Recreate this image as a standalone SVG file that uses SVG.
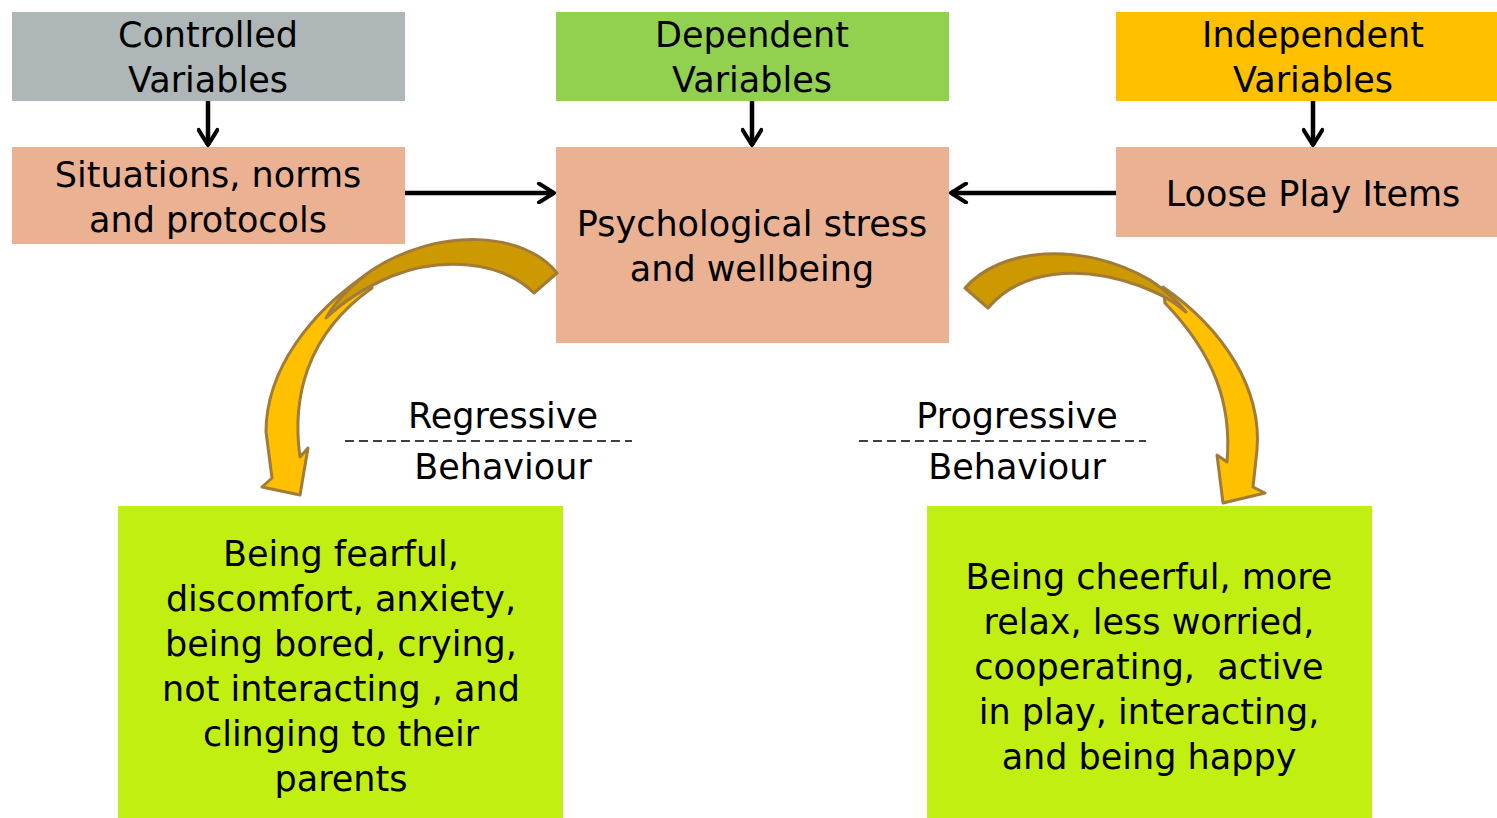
<svg xmlns="http://www.w3.org/2000/svg" width="1497" height="818" viewBox="0 0 1497 818">
  <defs>
    <style>
      text { font-family: "DejaVu Sans", "Liberation Sans", sans-serif; font-size: 35px; fill: #000; text-anchor: middle; }
      .grey { fill: #AEB6B7; }
      .green { fill: #92D050; }
      .amber { fill: #FFC000; }
      .peach { fill: #EBB193; }
      .lime { fill: #C2EF12; }
      .link { stroke: #000; stroke-width: 4.5; fill: none; }
      .dash { stroke: #000; stroke-width: 1.5; stroke-dasharray: 9 5; fill: none; }
      .band-dark { fill: #CC9900; stroke: #A37B38; stroke-width: 3; stroke-linejoin: round; }
      .band-light { fill: #FFC000; stroke: #A37B38; stroke-width: 3; stroke-linejoin: round; }
    </style>
    <marker id="chev" viewBox="0 0 12 12" refX="10" refY="6" markerWidth="5" markerHeight="5" orient="auto" markerUnits="strokeWidth">
      <path d="M2,1 L10,6 L2,11" fill="none" stroke="#000" stroke-width="2.2" stroke-linecap="round" stroke-linejoin="round"/>
    </marker>
  </defs>

  <rect width="1497" height="818" fill="#fff"/>

  <!-- header variable boxes -->
  <g id="controlled">
    <rect class="grey" x="12" y="12" width="393" height="89"/>
    <text x="208" y="47">Controlled</text>
    <text x="208" y="92">Variables</text>
  </g>
  <g id="dependent">
    <rect class="green" x="556" y="12" width="393" height="89"/>
    <text x="752" y="47">Dependent</text>
    <text x="752" y="92">Variables</text>
  </g>
  <g id="independent">
    <rect class="amber" x="1116" y="12" width="381" height="89"/>
    <text x="1313" y="47">Independent</text>
    <text x="1313" y="92">Variables</text>
  </g>

  <!-- second row -->
  <g id="situations">
    <rect class="peach" x="12" y="147" width="393" height="97"/>
    <text x="208" y="187">Situations, norms</text>
    <text x="208" y="232">and protocols</text>
  </g>
  <g id="stress">
    <rect class="peach" x="556" y="147" width="393" height="196"/>
    <text x="752" y="236">Psychological stress</text>
    <text x="752" y="281">and wellbeing</text>
  </g>
  <g id="loose">
    <rect class="peach" x="1116" y="147" width="381" height="90"/>
    <text x="1313" y="206">Loose Play Items</text>
  </g>

  <!-- outcome boxes -->
  <g id="regressive">
    <rect class="lime" x="118" y="506" width="445" height="312"/>
    <text x="341" y="566">Being fearful,</text>
    <text x="341" y="611">discomfort, anxiety,</text>
    <text x="341" y="656">being bored, crying,</text>
    <text x="341" y="701">not interacting , and</text>
    <text x="341" y="746">clinging to their</text>
    <text x="341" y="791">parents</text>
  </g>
  <g id="progressive">
    <rect class="lime" x="927" y="506" width="445" height="312"/>
    <text x="1149" y="589">Being cheerful, more</text>
    <text x="1149" y="634">relax, less worried,</text>
    <text x="1149" y="679" xml:space="preserve">cooperating,  active</text>
    <text x="1149" y="724">in play, interacting,</text>
    <text x="1149" y="769">and being happy</text>
  </g>

  <!-- behaviour labels -->
  <g id="regressive-label">
    <text x="503" y="428">Regressive</text>
    <line class="dash" x1="345" y1="441" x2="632" y2="441"/>
    <text x="503" y="479">Behaviour</text>
  </g>
  <g id="progressive-label">
    <text x="1017" y="428">Progressive</text>
    <line class="dash" x1="859" y1="441" x2="1146" y2="441"/>
    <text x="1017" y="479">Behaviour</text>
  </g>

  <!-- connectors -->
  <g id="connectors">
    <line class="link" x1="208" y1="101" x2="208" y2="145" marker-end="url(#chev)"/>
    <line class="link" x1="752" y1="101" x2="752" y2="145" marker-end="url(#chev)"/>
    <line class="link" x1="1313" y1="101" x2="1313" y2="145" marker-end="url(#chev)"/>
    <line class="link" x1="405" y1="193" x2="554" y2="193" marker-end="url(#chev)"/>
    <line class="link" x1="1116" y1="193" x2="951" y2="193" marker-end="url(#chev)"/>

    <!-- curved ribbon arrow, left -->
    <path class="band-light" d="M370,272 C310,312 266,370 266,432 L272,478 L262,487 L300,495 L308,448 L300,457 C292,400 305,335 372,288 Z"/>
    <path class="band-dark" d="M557,273 C525,232 440,226 372,270 C350,286 335,302 326,318 C345,300 368,286 392,276 C440,257 500,260 534,293 Z"/>

    <!-- curved ribbon arrow, right -->
    <path class="band-light" d="M1163,287 C1225,330 1262,390 1257,450 L1253,487 L1265,493 L1223,503 L1217,455 L1227,462 C1232,405 1215,355 1165,303 Z"/>
    <path class="band-dark" d="M965,288 C1000,248 1080,240 1150,280 C1165,290 1177,300 1186,312 C1170,298 1155,292 1140,286 C1080,264 1020,270 988,308 Z"/>
  </g>
</svg>
